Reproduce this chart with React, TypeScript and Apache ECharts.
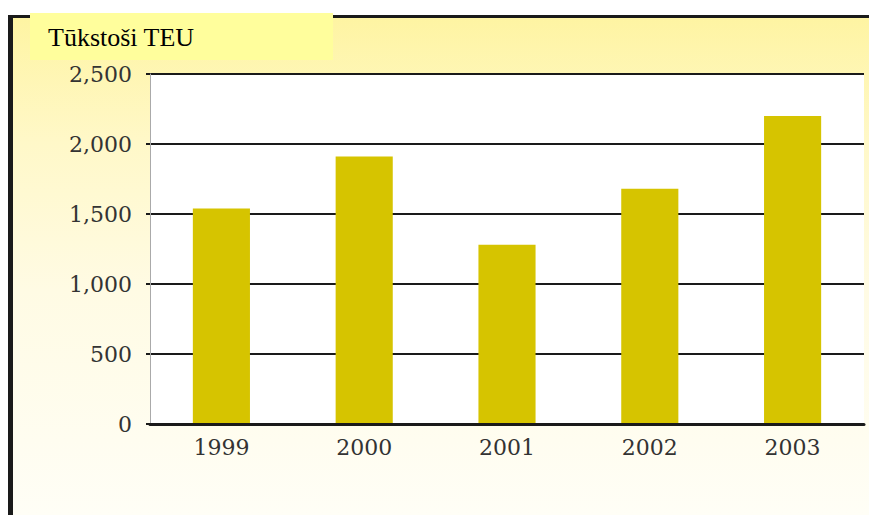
import React, { useEffect, useRef } from "react";
import * as echarts from "echarts";

const categories = ["1999", "2000", "2001", "2002", "2003"];
const teuValues = [1540, 1910, 1280, 1680, 2200];
const yTicks = [0, 500, 1000, 1500, 2000, 2500];
const titleText = "Tūkstoši TEU";

export default function App() {
  const ref = useRef<HTMLDivElement>(null);
  useEffect(() => {
    if (!ref.current) return;
    const chart = echarts.init(ref.current, null, { renderer: "svg" });
    const serif = "DejaVu Serif";
    chart.setOption({
      animation: false,
      backgroundColor: "#ffffff",
      graphic: [
        {
          type: "rect",
          z: -10,
          silent: true,
          shape: { x: 12, y: 17, width: 857, height: 498 },
          style: {
            fill: new echarts.graphic.LinearGradient(0, 0, 0, 1, [
              { offset: 0, color: "#FEF4A2" },
              { offset: 0.25, color: "#FFF8C8" },
              { offset: 0.55, color: "#FFFBE4" },
              { offset: 1, color: "#FFFEF6" },
            ]),
          },
        },
        {
          type: "rect",
          z: 50,
          silent: true,
          shape: { x: 8, y: 15, width: 861, height: 3 },
          style: { fill: "#1a1a1a" },
        },
        {
          type: "rect",
          z: 50,
          silent: true,
          shape: { x: 8, y: 15, width: 5, height: 500 },
          style: { fill: "#1a1a1a" },
        },
        {
          type: "rect",
          z: 100,
          silent: true,
          shape: { x: 30, y: 13, width: 303, height: 47 },
          style: { fill: "#FFFE9C" },
        },
        {
          type: "text",
          z: 101,
          silent: true,
          x: 48,
          y: 37,
          style: {
            text: titleText,
            fill: "#000000",
            font: '26px "Liberation Serif"',
            verticalAlign: "middle",
            align: "left",
          },
        },
      ],
      grid: {
        left: 150,
        right: 5,
        top: 74,
        bottom: 91,
        show: true,
        backgroundColor: "#ffffff",
        borderWidth: 0,
      },
      xAxis: {
        type: "category",
        data: categories,
        axisLine: { show: true, lineStyle: { color: "#1a1a1a", width: 3 } },
        axisTick: { show: false },
        axisLabel: {
          margin: 12,
          fontFamily: serif,
          fontSize: 22,
          color: "#333333",
        },
        z: 5,
      },
      yAxis: {
        type: "value",
        min: yTicks[0],
        max: yTicks[yTicks.length - 1],
        interval: 500,
        axisLine: { show: true, lineStyle: { color: "#aaaaaa", width: 1 } },
        axisTick: {
          show: true,
          inside: false,
          length: 4,
          lineStyle: { color: "#1a1a1a", width: 2 },
        },
        axisLabel: {
          margin: 18,
          fontFamily: serif,
          fontSize: 22,
          color: "#333333",
          formatter: (v: number) => v.toLocaleString("en-US"),
        },
        splitLine: { show: true, lineStyle: { color: "#1a1a1a", width: 2 } },
      },
      series: [
        {
          type: "bar",
          data: teuValues,
          barWidth: "40%",
          itemStyle: { color: "#D6C400" },
          z: 3,
        },
      ],
    });
    return () => chart.dispose();
  }, []);
  return (
    <div
      ref={ref}
      style={{ position: "fixed", left: 0, top: 0, width: 869, height: 515 }}
    />
  );
}
